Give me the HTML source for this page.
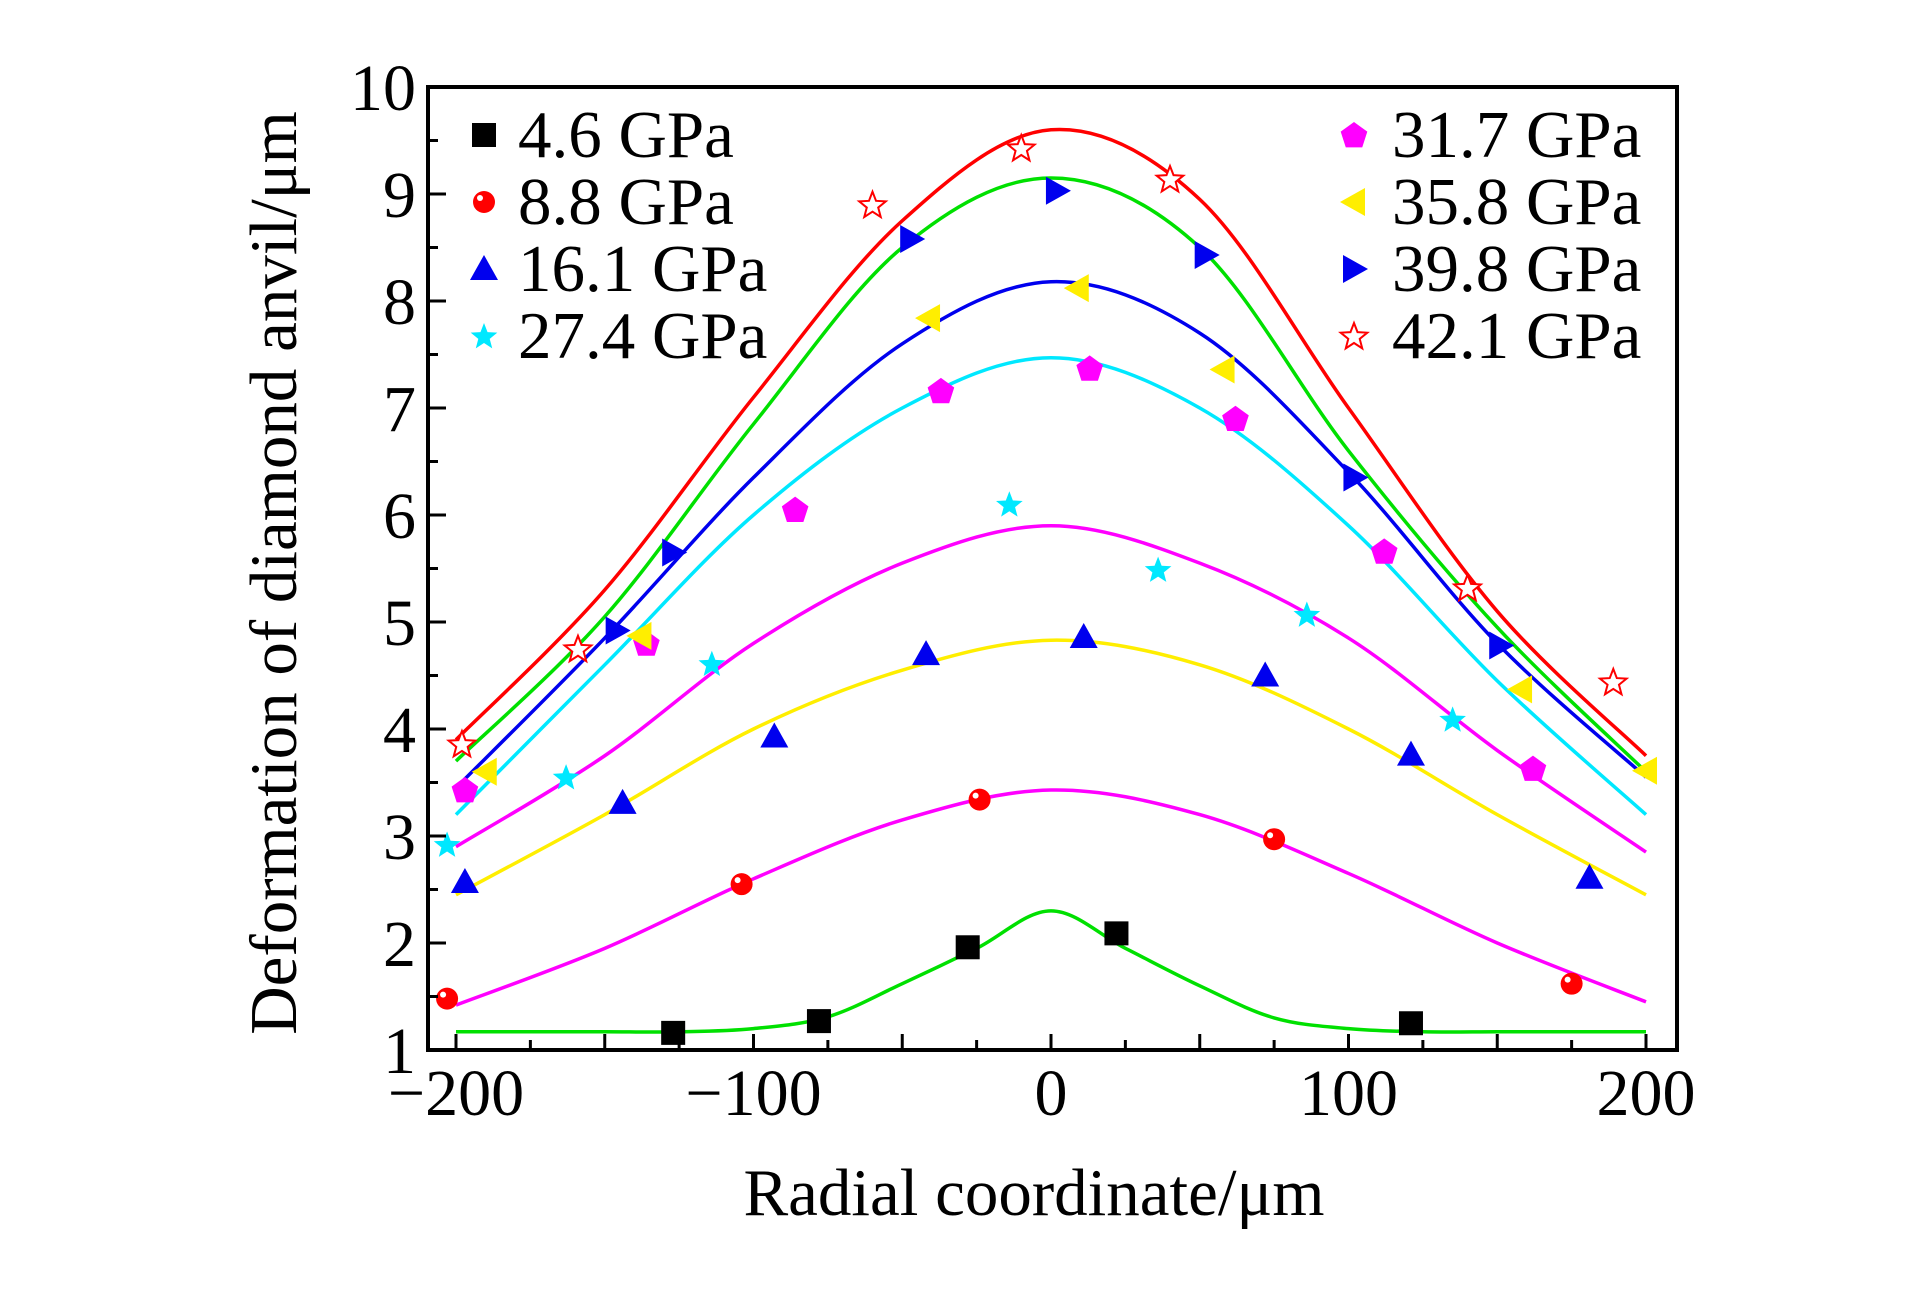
<!DOCTYPE html>
<html><head><meta charset="utf-8"><style>
html,body{margin:0;padding:0;background:#fff;}
svg{display:block;font-family:"Liberation Serif",serif;}
</style></head><body>
<svg id="chart" width="1923" height="1299" viewBox="0 0 1923 1299" xmlns="http://www.w3.org/2000/svg">
<g id="curves"></g>
<g id="marks"></g>
<g id="axes"></g>
<g id="legend"></g>
<text x="1034" y="1215" font-size="67" text-anchor="middle">Radial coordinate/μm</text>
<text transform="translate(296,573) rotate(-90)" font-size="67" text-anchor="middle">Deformation of diamond anvil/μm</text>
</svg>
<script>
const curveX = [-200,-150,-100,-50,0,50,100,150,200];
const curveXFine = [-200,-175,-150,-125,-100,-75,-50,-25,0,25,50,75,100,125,150,175,200];
const curve46 = [1.17,1.17,1.17,1.17,1.2,1.31,1.62,1.95,2.3,1.95,1.6,1.3,1.2,1.17,1.17,1.17,1.17];
const curve88 = [1.42,1.95,2.6,3.15,3.43,3.2,2.65,2.0,1.45];
const curve161 = [2.45,3.2,4.0,4.55,4.83,4.6,4.0,3.2,2.45];
const curve274 = [2.9,3.75,4.8,5.55,5.9,5.55,4.85,3.8,2.85];
const curve317 = [3.2,4.6,6.0,7.0,7.47,7.0,5.9,4.45,3.2];
const curve358 = [3.45,4.85,6.35,7.6,8.18,7.7,6.4,4.8,3.55];
const curve398 = [3.7,5.05,6.85,8.5,9.15,8.5,6.6,4.95,3.6];
const curve421 = [3.9,5.3,7.1,8.75,9.6,8.95,7.0,5.1,3.75];

const pts46x = [-127,-78,-28,22,121];
const pts46y = [1.16,1.27,1.96,2.09,1.25];
const pts88x = [-203,-104,-24,75,175];
const pts88y = [1.48,2.55,3.34,2.97,1.62];
const pts161x = [-197,-144,-93,-42,11,72,121,181];
const pts161y = [2.57,3.31,3.93,4.70,4.86,4.50,3.76,2.61];
const pts274x = [-203,-163,-114,-14,36,86,135];
const pts274y = [2.92,3.55,4.61,6.10,5.49,5.07,4.09];
const pts317x = [-197,-136,-86,-37,13,62,112,162];
const pts317y = [3.43,4.80,6.05,7.16,7.37,6.90,5.66,3.63];
const pts358x = [-190,-138,-41,9,58,158,200];
const pts358y = [3.6,4.87,7.84,8.12,7.36,4.37,3.61];
const pts398x = [-146,-127,-47,2,52,102,151];
const pts398y = [4.92,5.65,8.58,9.03,8.43,6.35,4.78];
const pts421x = [-198,-159,-60,-10,40,140,189];
const pts421y = [3.86,4.75,8.90,9.43,9.14,5.32,4.44];

const xTicks = [-200,-100,0,100,200];
const xTickLabels = ["\u2212200","\u2212100","0","100","200"];
const yTicks = [1,2,3,4,5,6,7,8,9,10];
const legendLeft = ["4.6 GPa","8.8 GPa","16.1 GPa","27.4 GPa"];
const legendRight = ["31.7 GPa","35.8 GPa","39.8 GPa","42.1 GPa"];

const NS="http://www.w3.org/2000/svg";
const X0=1051, XS=2.975, Y0=1050, YS=107;
function sx(v){return X0+v*XS;}
function sy(v){return Y0-(v-1)*YS;}
function mk(tag,attrs,parent){const e=document.createElementNS(NS,tag);for(const k in attrs)e.setAttribute(k,attrs[k]);parent.appendChild(e);return e;}

function splinePath(xs,ys){
  const p=xs.map((x,i)=>[sx(x),sy(ys[i])]);
  let d="M"+p[0][0]+","+p[0][1];
  for(let i=0;i<p.length-1;i++){
    const p0=p[Math.max(0,i-1)],p1=p[i],p2=p[i+1],p3=p[Math.min(p.length-1,i+2)];
    const c1=[p1[0]+(p2[0]-p0[0])/6,p1[1]+(p2[1]-p0[1])/6];
    const c2=[p2[0]-(p3[0]-p1[0])/6,p2[1]-(p3[1]-p1[1])/6];
    d+=" C"+c1[0]+","+c1[1]+" "+c2[0]+","+c2[1]+" "+p2[0]+","+p2[1];
  }
  return d;
}
const cg=document.getElementById('curves');
const curves=[[curveXFine,curve46,'#00e000','curve-4-6'],[curveX,curve88,'#ff00ff','curve-8-8'],[curveX,curve161,'#ffee00','curve-16-1'],[curveX,curve274,'#ff00ff','curve-27-4'],[curveX,curve317,'#00e8ff','curve-31-7'],[curveX,curve358,'#0000ee','curve-35-8'],[curveX,curve398,'#00e000','curve-39-8'],[curveX,curve421,'#ff0000','curve-42-1']];
curves.forEach(c=>{
  const e=mk('path',{d:splinePath(c[0],c[1]),fill:'none',stroke:c[2],'stroke-width':3.5},cg);
  
  
});

function marker(type,x,y,parent){
  let e;
  const s=13;
  if(type==='square') e=mk('rect',{x:x-s+1,y:y-s+1,width:2*s-2,height:2*s-2,fill:'#000'},parent);
  else if(type==='circle'){e=mk('g',{},parent);mk('circle',{cx:x,cy:y,r:11,fill:'#ff0000'},e);mk('circle',{cx:x-4,cy:y-4,r:3,fill:'#fff'},e);}
  else if(type==='tri-up') e=mk('polygon',{points:`${x},${y-14} ${x+14},${y+11} ${x-14},${y+11}`,fill:'#0000ee'},parent);
  else if(type==='tri-left') e=mk('polygon',{points:`${x-14},${y} ${x+11},${y-14} ${x+11},${y+14}`,fill:'#ffee00'},parent);
  else if(type==='tri-right') e=mk('polygon',{points:`${x+14},${y} ${x-11},${y-14} ${x-11},${y+14}`,fill:'#0000ee'},parent);
  else {
    const outer=14, inner=type==='pent'?11.5:6;
    let pts=[];
    if(type==='pent'){for(let i=0;i<5;i++){const a=-Math.PI/2+i*2*Math.PI/5;pts.push((x+outer*Math.cos(a))+','+(y+1+outer*Math.sin(a)));}}
    else {for(let i=0;i<10;i++){const r=i%2?inner:outer;const a=-Math.PI/2+i*Math.PI/5;pts.push((x+r*Math.cos(a))+','+(y+1+r*Math.sin(a)));}}
    if(type==='pent') e=mk('polygon',{points:pts.join(' '),fill:'#ff00ff'},parent);
    else if(type==='star') e=mk('polygon',{points:pts.join(' '),fill:'#00e8ff'},parent);
    else e=mk('polygon',{points:pts.join(' '),fill:'#fff',stroke:'#ff0000','stroke-width':2},parent);
  }
  return e;
}
const mg=document.getElementById('marks');
const series=[[pts46x,pts46y,'square','points-4-6'],[pts88x,pts88y,'circle','points-8-8'],[pts161x,pts161y,'tri-up','points-16-1'],[pts274x,pts274y,'star','points-27-4'],[pts317x,pts317y,'pent','points-31-7'],[pts358x,pts358y,'tri-left','points-35-8'],[pts398x,pts398y,'tri-right','points-39-8'],[pts421x,pts421y,'ostar','points-42-1']];
series.forEach(s=>{
  const g=mk('g',{},mg);
  
  
  s[0].forEach((v,i)=>{
    const m=marker(s[2],sx(v),sy(s[1][i]),g);
    
    
  });
});

const ag=document.getElementById('axes');
const box=mk('rect',{x:428,y:87,width:1249,height:963,fill:'none',stroke:'#000','stroke-width':4},ag);


for(let v=-200;v<=200;v+=25){
  const len=(v%50===0)?16:10;
  mk('line',{x1:sx(v),x2:sx(v),y1:1050,y2:1050-len,stroke:'#000','stroke-width':3},ag);
}
for(let v=1;v<=10;v+=0.5){
  const len=(v%1===0)?18:10;
  mk('line',{x1:428,x2:428+len,y1:sy(v),y2:sy(v),stroke:'#000','stroke-width':3},ag);
}
xTicks.forEach((v,i)=>{
  const t=mk('text',{x:sx(v),y:1115,'font-size':66,'text-anchor':'middle'},ag);
  t.textContent=xTickLabels[i];
  
  
});
yTicks.forEach(v=>{
  const t=mk('text',{x:416,y:sy(v)+23,'font-size':66,'text-anchor':'end'},ag);
  t.textContent=String(v);
  
  
});

const lg=document.getElementById('legend');
const leftTypes=['square','circle','tri-up','star'];
const rightTypes=['pent','tri-left','tri-right','ostar'];
const rowY=[135,202,269,336];
legendLeft.forEach((lab,i)=>{
  const g=mk('g',{},lg);
  
  
  marker(leftTypes[i],484,rowY[i],g);
  const t=mk('text',{x:518,y:rowY[i]+22,'font-size':67},g);
  t.textContent=lab;
});
legendRight.forEach((lab,i)=>{
  const g=mk('g',{},lg);
  
  
  marker(rightTypes[i],1354,rowY[i],g);
  const t=mk('text',{x:1392,y:rowY[i]+22,'font-size':67},g);
  t.textContent=lab;
});
</script>
</body></html>
